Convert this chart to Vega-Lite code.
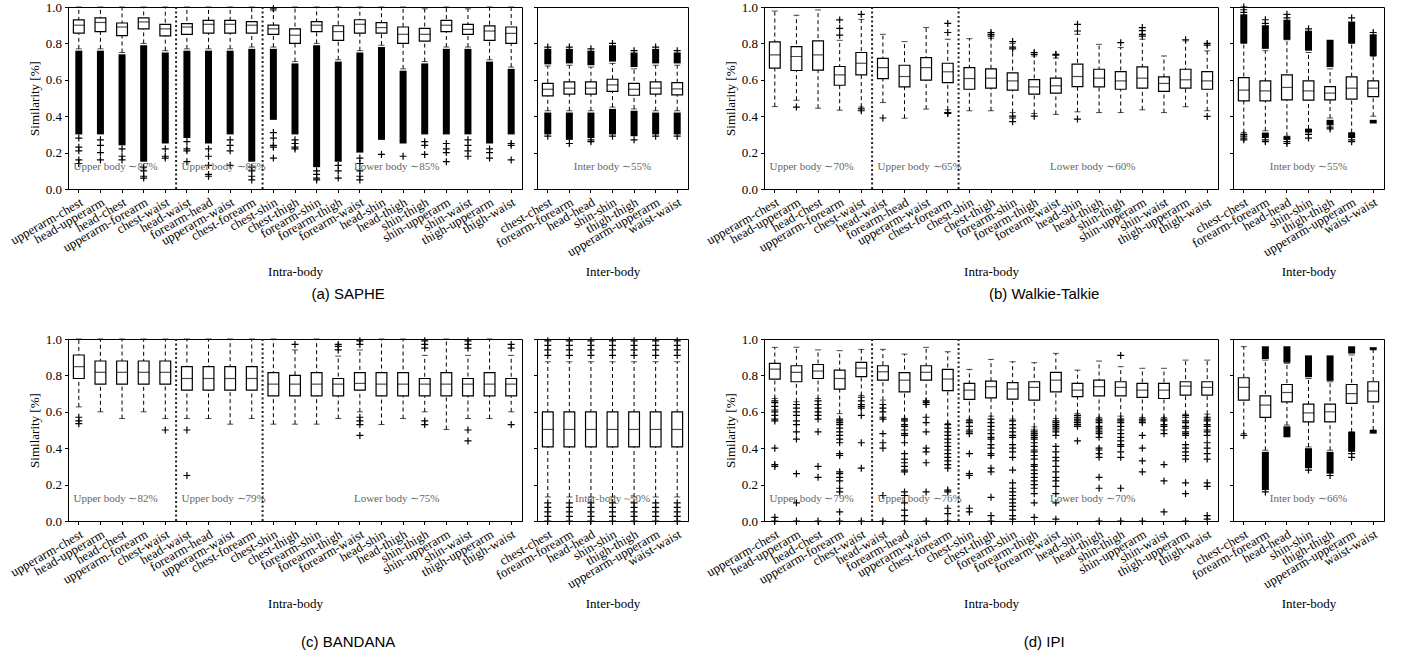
{
"$schema": "https://vega.github.io/schema/vega-lite/v6.json",
"padding": {"left": 7, "top": 0, "right": 5, "bottom": 5},
"background": "white",
"datasets": {
"bx": [
{"g":"ai","c":"upperarm-chest","lo":0.77,"q1":0.856,"md":0.9,"q3":0.929,"hi":1.0},
{"g":"ai","c":"head-upperarm","lo":0.77,"q1":0.865,"md":0.915,"q3":0.94,"hi":1.0},
{"g":"ai","c":"head-chest","lo":0.75,"q1":0.843,"md":0.89,"q3":0.912,"hi":1.0},
{"g":"ai","c":"upperarm-forearm","lo":0.8,"q1":0.88,"md":0.918,"q3":0.94,"hi":1.0},
{"g":"ai","c":"chest-waist","lo":0.76,"q1":0.841,"md":0.88,"q3":0.905,"hi":1.0},
{"g":"ai","c":"head-waist","lo":0.77,"q1":0.85,"md":0.89,"q3":0.909,"hi":1.0},
{"g":"ai","c":"forearm-head","lo":0.77,"q1":0.856,"md":0.905,"q3":0.927,"hi":1.0},
{"g":"ai","c":"upperarm-waist","lo":0.77,"q1":0.856,"md":0.905,"q3":0.927,"hi":1.0},
{"g":"ai","c":"chest-forearm","lo":0.78,"q1":0.856,"md":0.9,"q3":0.92,"hi":1.0},
{"g":"ai","c":"chest-shin","lo":0.78,"q1":0.85,"md":0.88,"q3":0.9,"hi":0.98},
{"g":"ai","c":"chest-thigh","lo":0.7,"q1":0.8,"md":0.845,"q3":0.88,"hi":1.0},
{"g":"ai","c":"forearm-shin","lo":0.8,"q1":0.865,"md":0.9,"q3":0.92,"hi":1.0},
{"g":"ai","c":"forearm-thigh","lo":0.71,"q1":0.817,"md":0.865,"q3":0.897,"hi":1.0},
{"g":"ai","c":"forearm-waist","lo":0.76,"q1":0.856,"md":0.905,"q3":0.93,"hi":1.0},
{"g":"ai","c":"head-shin","lo":0.79,"q1":0.856,"md":0.887,"q3":0.914,"hi":1.0},
{"g":"ai","c":"head-thigh","lo":0.66,"q1":0.8,"md":0.85,"q3":0.89,"hi":1.0},
{"g":"ai","c":"shin-thigh","lo":0.7,"q1":0.813,"md":0.85,"q3":0.883,"hi":0.99},
{"g":"ai","c":"shin-upperarm","lo":0.78,"q1":0.865,"md":0.9,"q3":0.927,"hi":1.0},
{"g":"ai","c":"shin-waist","lo":0.78,"q1":0.85,"md":0.877,"q3":0.905,"hi":0.99},
{"g":"ai","c":"thigh-upperarm","lo":0.71,"q1":0.817,"md":0.868,"q3":0.896,"hi":1.0},
{"g":"ai","c":"thigh-waist","lo":0.67,"q1":0.8,"md":0.855,"q3":0.89,"hi":1.0},
{"g":"ae","c":"chest-chest","lo":0.43,"q1":0.512,"md":0.548,"q3":0.58,"hi":0.676},
{"g":"ae","c":"forearm-forearm","lo":0.43,"q1":0.521,"md":0.554,"q3":0.589,"hi":0.68},
{"g":"ae","c":"head-head","lo":0.43,"q1":0.521,"md":0.554,"q3":0.589,"hi":0.67},
{"g":"ae","c":"shin-shin","lo":0.45,"q1":0.536,"md":0.572,"q3":0.603,"hi":0.69},
{"g":"ae","c":"thigh-thigh","lo":0.44,"q1":0.515,"md":0.548,"q3":0.58,"hi":0.66},
{"g":"ae","c":"upperarm-upperarm","lo":0.43,"q1":0.521,"md":0.554,"q3":0.589,"hi":0.68},
{"g":"ae","c":"waist-waist","lo":0.43,"q1":0.517,"md":0.55,"q3":0.585,"hi":0.68},
{"g":"bi","c":"upperarm-chest","lo":0.453,"q1":0.664,"md":0.737,"q3":0.808,"hi":0.978},
{"g":"bi","c":"head-upperarm","lo":0.488,"q1":0.651,"md":0.728,"q3":0.782,"hi":0.954},
{"g":"bi","c":"head-chest","lo":0.444,"q1":0.653,"md":0.737,"q3":0.814,"hi":0.984},
{"g":"bi","c":"upperarm-forearm","lo":0.433,"q1":0.57,"md":0.627,"q3":0.673,"hi":0.817},
{"g":"bi","c":"chest-waist","lo":0.45,"q1":0.627,"md":0.691,"q3":0.75,"hi":0.932},
{"g":"bi","c":"head-waist","lo":0.475,"q1":0.607,"md":0.667,"q3":0.718,"hi":0.85},
{"g":"bi","c":"forearm-head","lo":0.389,"q1":0.561,"md":0.618,"q3":0.68,"hi":0.81},
{"g":"bi","c":"upperarm-waist","lo":0.439,"q1":0.598,"md":0.667,"q3":0.722,"hi":0.887},
{"g":"bi","c":"chest-forearm","lo":0.435,"q1":0.585,"md":0.644,"q3":0.691,"hi":0.823},
{"g":"bi","c":"chest-shin","lo":0.43,"q1":0.548,"md":0.607,"q3":0.667,"hi":0.826},
{"g":"bi","c":"chest-thigh","lo":0.43,"q1":0.554,"md":0.609,"q3":0.66,"hi":0.828},
{"g":"bi","c":"forearm-shin","lo":0.42,"q1":0.543,"md":0.594,"q3":0.638,"hi":0.8},
{"g":"bi","c":"forearm-thigh","lo":0.415,"q1":0.521,"md":0.561,"q3":0.601,"hi":0.731},
{"g":"bi","c":"forearm-waist","lo":0.41,"q1":0.527,"md":0.567,"q3":0.609,"hi":0.72},
{"g":"bi","c":"head-shin","lo":0.424,"q1":0.563,"md":0.618,"q3":0.686,"hi":0.85},
{"g":"bi","c":"head-thigh","lo":0.42,"q1":0.561,"md":0.609,"q3":0.658,"hi":0.795},
{"g":"bi","c":"shin-thigh","lo":0.42,"q1":0.548,"md":0.594,"q3":0.645,"hi":0.777},
{"g":"bi","c":"shin-upperarm","lo":0.435,"q1":0.554,"md":0.609,"q3":0.671,"hi":0.823},
{"g":"bi","c":"shin-waist","lo":0.42,"q1":0.536,"md":0.58,"q3":0.616,"hi":0.731},
{"g":"bi","c":"thigh-upperarm","lo":0.452,"q1":0.554,"md":0.6,"q3":0.658,"hi":0.814},
{"g":"bi","c":"thigh-waist","lo":0.43,"q1":0.548,"md":0.594,"q3":0.645,"hi":0.759},
{"g":"be","c":"chest-chest","lo":0.31,"q1":0.484,"md":0.543,"q3":0.612,"hi":0.8},
{"g":"be","c":"forearm-forearm","lo":0.32,"q1":0.484,"md":0.539,"q3":0.594,"hi":0.76},
{"g":"be","c":"head-head","lo":0.29,"q1":0.49,"md":0.558,"q3":0.627,"hi":0.82},
{"g":"be","c":"shin-shin","lo":0.33,"q1":0.488,"md":0.539,"q3":0.594,"hi":0.75},
{"g":"be","c":"thigh-thigh","lo":0.39,"q1":0.49,"md":0.527,"q3":0.563,"hi":0.66},
{"g":"be","c":"upperarm-upperarm","lo":0.31,"q1":0.494,"md":0.554,"q3":0.616,"hi":0.8},
{"g":"be","c":"waist-waist","lo":0.4,"q1":0.508,"md":0.554,"q3":0.594,"hi":0.73},
{"g":"ci","c":"upperarm-chest","lo":0.627,"q1":0.783,"md":0.848,"q3":0.912,"hi":1.0},
{"g":"ci","c":"head-upperarm","lo":0.6,"q1":0.752,"md":0.817,"q3":0.879,"hi":1.0},
{"g":"ci","c":"head-chest","lo":0.563,"q1":0.752,"md":0.817,"q3":0.879,"hi":1.0},
{"g":"ci","c":"upperarm-forearm","lo":0.6,"q1":0.752,"md":0.817,"q3":0.879,"hi":1.0},
{"g":"ci","c":"chest-waist","lo":0.563,"q1":0.752,"md":0.817,"q3":0.879,"hi":1.0},
{"g":"ci","c":"head-waist","lo":0.563,"q1":0.719,"md":0.783,"q3":0.848,"hi":1.0},
{"g":"ci","c":"forearm-head","lo":0.563,"q1":0.719,"md":0.783,"q3":0.848,"hi":1.0},
{"g":"ci","c":"upperarm-waist","lo":0.532,"q1":0.719,"md":0.783,"q3":0.848,"hi":1.0},
{"g":"ci","c":"chest-forearm","lo":0.563,"q1":0.719,"md":0.783,"q3":0.848,"hi":1.0},
{"g":"ci","c":"chest-shin","lo":0.532,"q1":0.688,"md":0.752,"q3":0.815,"hi":1.0},
{"g":"ci","c":"chest-thigh","lo":0.532,"q1":0.688,"md":0.752,"q3":0.8,"hi":0.94},
{"g":"ci","c":"forearm-shin","lo":0.532,"q1":0.688,"md":0.752,"q3":0.815,"hi":1.0},
{"g":"ci","c":"forearm-thigh","lo":0.563,"q1":0.688,"md":0.752,"q3":0.783,"hi":0.906},
{"g":"ci","c":"forearm-waist","lo":0.6,"q1":0.719,"md":0.756,"q3":0.815,"hi":0.94},
{"g":"ci","c":"head-shin","lo":0.53,"q1":0.688,"md":0.752,"q3":0.815,"hi":1.0},
{"g":"ci","c":"head-thigh","lo":0.563,"q1":0.688,"md":0.752,"q3":0.815,"hi":1.0},
{"g":"ci","c":"shin-thigh","lo":0.6,"q1":0.688,"md":0.752,"q3":0.783,"hi":0.91},
{"g":"ci","c":"shin-upperarm","lo":0.503,"q1":0.688,"md":0.752,"q3":0.815,"hi":1.0},
{"g":"ci","c":"shin-waist","lo":0.563,"q1":0.688,"md":0.752,"q3":0.783,"hi":0.91},
{"g":"ci","c":"thigh-upperarm","lo":0.563,"q1":0.688,"md":0.752,"q3":0.815,"hi":1.0},
{"g":"ci","c":"thigh-waist","lo":0.6,"q1":0.688,"md":0.752,"q3":0.783,"hi":0.91},
{"g":"ce","c":"chest-chest","lo":0.132,"q1":0.407,"md":0.503,"q3":0.6,"hi":0.875},
{"g":"ce","c":"forearm-forearm","lo":0.132,"q1":0.407,"md":0.503,"q3":0.6,"hi":0.875},
{"g":"ce","c":"head-head","lo":0.132,"q1":0.407,"md":0.503,"q3":0.6,"hi":0.875},
{"g":"ce","c":"shin-shin","lo":0.132,"q1":0.407,"md":0.503,"q3":0.6,"hi":0.875},
{"g":"ce","c":"thigh-thigh","lo":0.132,"q1":0.407,"md":0.503,"q3":0.6,"hi":0.875},
{"g":"ce","c":"upperarm-upperarm","lo":0.132,"q1":0.407,"md":0.503,"q3":0.6,"hi":0.875},
{"g":"ce","c":"waist-waist","lo":0.132,"q1":0.407,"md":0.503,"q3":0.6,"hi":0.875},
{"g":"di","c":"upperarm-chest","lo":0.673,"q1":0.78,"md":0.835,"q3":0.866,"hi":0.954},
{"g":"di","c":"head-upperarm","lo":0.655,"q1":0.765,"md":0.817,"q3":0.853,"hi":0.954},
{"g":"di","c":"head-chest","lo":0.673,"q1":0.783,"md":0.824,"q3":0.86,"hi":0.94},
{"g":"di","c":"upperarm-forearm","lo":0.59,"q1":0.725,"md":0.783,"q3":0.829,"hi":0.936},
{"g":"di","c":"chest-waist","lo":0.69,"q1":0.793,"md":0.84,"q3":0.872,"hi":0.943},
{"g":"di","c":"head-waist","lo":0.664,"q1":0.774,"md":0.82,"q3":0.853,"hi":0.943},
{"g":"di","c":"forearm-head","lo":0.563,"q1":0.71,"md":0.774,"q3":0.815,"hi":0.917},
{"g":"di","c":"upperarm-waist","lo":0.655,"q1":0.774,"md":0.817,"q3":0.853,"hi":0.954},
{"g":"di","c":"chest-forearm","lo":0.536,"q1":0.716,"md":0.78,"q3":0.833,"hi":0.93},
{"g":"di","c":"chest-shin","lo":0.558,"q1":0.668,"md":0.719,"q3":0.756,"hi":0.833},
{"g":"di","c":"chest-thigh","lo":0.576,"q1":0.677,"md":0.738,"q3":0.769,"hi":0.888},
{"g":"di","c":"forearm-shin","lo":0.56,"q1":0.67,"md":0.725,"q3":0.76,"hi":0.875},
{"g":"di","c":"forearm-thigh","lo":0.517,"q1":0.664,"md":0.734,"q3":0.765,"hi":0.87},
{"g":"di","c":"forearm-waist","lo":0.563,"q1":0.71,"md":0.774,"q3":0.817,"hi":0.921},
{"g":"di","c":"head-shin","lo":0.59,"q1":0.683,"md":0.719,"q3":0.756,"hi":0.829},
{"g":"di","c":"head-thigh","lo":0.569,"q1":0.688,"md":0.738,"q3":0.774,"hi":0.879},
{"g":"di","c":"shin-thigh","lo":0.576,"q1":0.688,"md":0.734,"q3":0.765,"hi":0.848},
{"g":"di","c":"shin-upperarm","lo":0.569,"q1":0.679,"md":0.719,"q3":0.756,"hi":0.839},
{"g":"di","c":"shin-waist","lo":0.569,"q1":0.673,"md":0.719,"q3":0.756,"hi":0.839},
{"g":"di","c":"thigh-upperarm","lo":0.587,"q1":0.692,"md":0.741,"q3":0.765,"hi":0.884},
{"g":"di","c":"thigh-waist","lo":0.587,"q1":0.692,"md":0.734,"q3":0.765,"hi":0.884},
{"g":"de","c":"chest-chest","lo":0.48,"q1":0.664,"md":0.734,"q3":0.787,"hi":0.958},
{"g":"de","c":"forearm-forearm","lo":0.389,"q1":0.569,"md":0.637,"q3":0.688,"hi":0.884},
{"g":"de","c":"head-head","lo":0.527,"q1":0.655,"md":0.706,"q3":0.75,"hi":0.866},
{"g":"de","c":"shin-shin","lo":0.407,"q1":0.545,"md":0.594,"q3":0.642,"hi":0.783},
{"g":"de","c":"thigh-thigh","lo":0.389,"q1":0.545,"md":0.6,"q3":0.642,"hi":0.765},
{"g":"de","c":"upperarm-upperarm","lo":0.49,"q1":0.646,"md":0.7,"q3":0.75,"hi":0.912},
{"g":"de","c":"waist-waist","lo":0.5,"q1":0.655,"md":0.714,"q3":0.765,"hi":0.94}
],
"bd": [
{"g":"ai","c":"upperarm-chest","b0":0.3,"b1":0.76},
{"g":"ai","c":"head-upperarm","b0":0.3,"b1":0.76},
{"g":"ai","c":"head-chest","b0":0.24,"b1":0.74},
{"g":"ai","c":"upperarm-forearm","b0":0.15,"b1":0.79},
{"g":"ai","c":"chest-waist","b0":0.25,"b1":0.75},
{"g":"ai","c":"head-waist","b0":0.28,"b1":0.76},
{"g":"ai","c":"forearm-head","b0":0.25,"b1":0.76},
{"g":"ai","c":"upperarm-waist","b0":0.3,"b1":0.76},
{"g":"ai","c":"chest-forearm","b0":0.15,"b1":0.77},
{"g":"ai","c":"chest-shin","b0":0.38,"b1":0.77},
{"g":"ai","c":"chest-thigh","b0":0.3,"b1":0.69},
{"g":"ai","c":"forearm-shin","b0":0.12,"b1":0.79},
{"g":"ai","c":"forearm-thigh","b0":0.15,"b1":0.7},
{"g":"ai","c":"forearm-waist","b0":0.2,"b1":0.75},
{"g":"ai","c":"head-shin","b0":0.27,"b1":0.78},
{"g":"ai","c":"head-thigh","b0":0.25,"b1":0.65},
{"g":"ai","c":"shin-thigh","b0":0.3,"b1":0.69},
{"g":"ai","c":"shin-upperarm","b0":0.3,"b1":0.77},
{"g":"ai","c":"shin-waist","b0":0.3,"b1":0.77},
{"g":"ai","c":"thigh-upperarm","b0":0.25,"b1":0.7},
{"g":"ai","c":"thigh-waist","b0":0.3,"b1":0.66},
{"g":"ae","c":"chest-chest","b0":0.685,"b1":0.77},
{"g":"ae","c":"chest-chest","b0":0.3,"b1":0.42},
{"g":"ae","c":"forearm-forearm","b0":0.69,"b1":0.77},
{"g":"ae","c":"forearm-forearm","b0":0.27,"b1":0.42},
{"g":"ae","c":"head-head","b0":0.68,"b1":0.76},
{"g":"ae","c":"head-head","b0":0.28,"b1":0.42},
{"g":"ae","c":"shin-shin","b0":0.7,"b1":0.79},
{"g":"ae","c":"shin-shin","b0":0.3,"b1":0.44},
{"g":"ae","c":"thigh-thigh","b0":0.67,"b1":0.75},
{"g":"ae","c":"thigh-thigh","b0":0.29,"b1":0.43},
{"g":"ae","c":"upperarm-upperarm","b0":0.69,"b1":0.77},
{"g":"ae","c":"upperarm-upperarm","b0":0.3,"b1":0.42},
{"g":"ae","c":"waist-waist","b0":0.69,"b1":0.75},
{"g":"ae","c":"waist-waist","b0":0.3,"b1":0.42},
{"g":"be","c":"chest-chest","b0":0.8,"b1":0.96},
{"g":"be","c":"forearm-forearm","b0":0.77,"b1":0.9},
{"g":"be","c":"forearm-forearm","b0":0.28,"b1":0.31},
{"g":"be","c":"head-head","b0":0.82,"b1":0.93},
{"g":"be","c":"head-head","b0":0.27,"b1":0.29},
{"g":"be","c":"shin-shin","b0":0.76,"b1":0.87},
{"g":"be","c":"shin-shin","b0":0.31,"b1":0.33},
{"g":"be","c":"thigh-thigh","b0":0.67,"b1":0.82},
{"g":"be","c":"thigh-thigh","b0":0.35,"b1":0.38},
{"g":"be","c":"upperarm-upperarm","b0":0.8,"b1":0.92},
{"g":"be","c":"upperarm-upperarm","b0":0.28,"b1":0.31},
{"g":"be","c":"waist-waist","b0":0.73,"b1":0.85},
{"g":"be","c":"waist-waist","b0":0.36,"b1":0.38},
{"g":"de","c":"forearm-forearm","b0":0.89,"b1":0.96},
{"g":"de","c":"forearm-forearm","b0":0.17,"b1":0.38},
{"g":"de","c":"head-head","b0":0.87,"b1":0.96},
{"g":"de","c":"head-head","b0":0.46,"b1":0.52},
{"g":"de","c":"shin-shin","b0":0.79,"b1":0.91},
{"g":"de","c":"shin-shin","b0":0.29,"b1":0.4},
{"g":"de","c":"thigh-thigh","b0":0.77,"b1":0.91},
{"g":"de","c":"thigh-thigh","b0":0.26,"b1":0.38},
{"g":"de","c":"upperarm-upperarm","b0":0.92,"b1":0.96},
{"g":"de","c":"upperarm-upperarm","b0":0.38,"b1":0.49},
{"g":"de","c":"waist-waist","b0":0.94,"b1":0.955},
{"g":"de","c":"waist-waist","b0":0.48,"b1":0.5}
],
"ot": [
{"g":"ai","c":"upperarm-chest","v":0.28},{"g":"ai","c":"upperarm-chest","v":0.23},{"g":"ai","c":"upperarm-chest","v":0.21},{"g":"ai","c":"upperarm-chest","v":0.16},{"g":"ai","c":"upperarm-chest","v":0.14},
{"g":"ai","c":"head-upperarm","v":0.27},{"g":"ai","c":"head-upperarm","v":0.24},{"g":"ai","c":"head-upperarm","v":0.2},{"g":"ai","c":"head-upperarm","v":0.16},
{"g":"ai","c":"head-chest","v":0.22},{"g":"ai","c":"head-chest","v":0.18},{"g":"ai","c":"head-chest","v":0.16},
{"g":"ai","c":"upperarm-forearm","v":0.12},{"g":"ai","c":"upperarm-forearm","v":0.1},{"g":"ai","c":"upperarm-forearm","v":0.07},{"g":"ai","c":"upperarm-forearm","v":0.06},
{"g":"ai","c":"chest-waist","v":0.22},{"g":"ai","c":"chest-waist","v":0.18},{"g":"ai","c":"chest-waist","v":0.17},
{"g":"ai","c":"head-waist","v":0.26},{"g":"ai","c":"head-waist","v":0.22},{"g":"ai","c":"head-waist","v":0.21},{"g":"ai","c":"head-waist","v":0.15},
{"g":"ai","c":"forearm-head","v":0.22},{"g":"ai","c":"forearm-head","v":0.18},{"g":"ai","c":"forearm-head","v":0.13},{"g":"ai","c":"forearm-head","v":0.08},{"g":"ai","c":"forearm-head","v":0.07},
{"g":"ai","c":"upperarm-waist","v":0.27},{"g":"ai","c":"upperarm-waist","v":0.24},{"g":"ai","c":"upperarm-waist","v":0.21},{"g":"ai","c":"upperarm-waist","v":0.13},
{"g":"ai","c":"chest-forearm","v":0.12},{"g":"ai","c":"chest-forearm","v":0.1},{"g":"ai","c":"chest-forearm","v":0.07},{"g":"ai","c":"chest-forearm","v":0.05},
{"g":"ai","c":"chest-shin","v":0.99},{"g":"ai","c":"chest-shin","v":0.31},{"g":"ai","c":"chest-shin","v":0.28},{"g":"ai","c":"chest-shin","v":0.24},{"g":"ai","c":"chest-shin","v":0.23},{"g":"ai","c":"chest-shin","v":0.17},
{"g":"ai","c":"chest-thigh","v":0.27},{"g":"ai","c":"chest-thigh","v":0.25},{"g":"ai","c":"chest-thigh","v":0.23},{"g":"ai","c":"chest-thigh","v":0.22},
{"g":"ai","c":"forearm-shin","v":0.1},{"g":"ai","c":"forearm-shin","v":0.08},{"g":"ai","c":"forearm-shin","v":0.06},{"g":"ai","c":"forearm-shin","v":0.05},
{"g":"ai","c":"forearm-thigh","v":0.13},{"g":"ai","c":"forearm-thigh","v":0.1},{"g":"ai","c":"forearm-thigh","v":0.06},
{"g":"ai","c":"forearm-waist","v":0.17},{"g":"ai","c":"forearm-waist","v":0.14},{"g":"ai","c":"forearm-waist","v":0.1},{"g":"ai","c":"forearm-waist","v":0.07},{"g":"ai","c":"forearm-waist","v":0.05},
{"g":"ai","c":"head-shin","v":0.19},
{"g":"ai","c":"head-thigh","v":0.18},
{"g":"ai","c":"shin-thigh","v":0.26},{"g":"ai","c":"shin-thigh","v":0.24},{"g":"ai","c":"shin-thigh","v":0.19},
{"g":"ai","c":"shin-upperarm","v":0.25},{"g":"ai","c":"shin-upperarm","v":0.22},{"g":"ai","c":"shin-upperarm","v":0.2},{"g":"ai","c":"shin-upperarm","v":0.15},
{"g":"ai","c":"shin-waist","v":0.27},{"g":"ai","c":"shin-waist","v":0.24},{"g":"ai","c":"shin-waist","v":0.21},{"g":"ai","c":"shin-waist","v":0.18},
{"g":"ai","c":"thigh-upperarm","v":0.22},{"g":"ai","c":"thigh-upperarm","v":0.2},{"g":"ai","c":"thigh-upperarm","v":0.17},
{"g":"ai","c":"thigh-waist","v":0.25},{"g":"ai","c":"thigh-waist","v":0.24},{"g":"ai","c":"thigh-waist","v":0.16},
{"g":"ae","c":"chest-chest","v":0.78},{"g":"ae","c":"chest-chest","v":0.29},
{"g":"ae","c":"forearm-forearm","v":0.78},{"g":"ae","c":"forearm-forearm","v":0.25},
{"g":"ae","c":"head-head","v":0.77},{"g":"ae","c":"head-head","v":0.27},{"g":"ae","c":"head-head","v":0.26},
{"g":"ae","c":"shin-shin","v":0.8},{"g":"ae","c":"shin-shin","v":0.29},
{"g":"ae","c":"thigh-thigh","v":0.76},{"g":"ae","c":"thigh-thigh","v":0.27},
{"g":"ae","c":"upperarm-upperarm","v":0.78},{"g":"ae","c":"upperarm-upperarm","v":0.29},
{"g":"ae","c":"waist-waist","v":0.76},{"g":"ae","c":"waist-waist","v":0.29},
{"g":"bi","c":"head-upperarm","v":0.45},
{"g":"bi","c":"upperarm-forearm","v":0.845},{"g":"bi","c":"upperarm-forearm","v":0.883},{"g":"bi","c":"upperarm-forearm","v":0.929},
{"g":"bi","c":"chest-waist","v":0.96},{"g":"bi","c":"chest-waist","v":0.44},{"g":"bi","c":"chest-waist","v":0.43},
{"g":"bi","c":"head-waist","v":0.39},
{"g":"bi","c":"chest-forearm","v":0.86},{"g":"bi","c":"chest-forearm","v":0.91},{"g":"bi","c":"chest-forearm","v":0.42},{"g":"bi","c":"chest-forearm","v":0.415},
{"g":"bi","c":"chest-thigh","v":0.84},{"g":"bi","c":"chest-thigh","v":0.85},{"g":"bi","c":"chest-thigh","v":0.86},
{"g":"bi","c":"forearm-shin","v":0.77},{"g":"bi","c":"forearm-shin","v":0.78},{"g":"bi","c":"forearm-shin","v":0.81},{"g":"bi","c":"forearm-shin","v":0.4},{"g":"bi","c":"forearm-shin","v":0.39},{"g":"bi","c":"forearm-shin","v":0.37},
{"g":"bi","c":"forearm-thigh","v":0.74},{"g":"bi","c":"forearm-thigh","v":0.75},{"g":"bi","c":"forearm-thigh","v":0.4},
{"g":"bi","c":"forearm-waist","v":0.735},{"g":"bi","c":"forearm-waist","v":0.74},
{"g":"bi","c":"head-shin","v":0.868},{"g":"bi","c":"head-shin","v":0.905},{"g":"bi","c":"head-shin","v":0.384},
{"g":"bi","c":"shin-thigh","v":0.804},
{"g":"bi","c":"shin-upperarm","v":0.84},{"g":"bi","c":"shin-upperarm","v":0.85},{"g":"bi","c":"shin-upperarm","v":0.87},{"g":"bi","c":"shin-upperarm","v":0.887},
{"g":"bi","c":"thigh-upperarm","v":0.82},
{"g":"bi","c":"thigh-waist","v":0.79},{"g":"bi","c":"thigh-waist","v":0.8},{"g":"bi","c":"thigh-waist","v":0.399},
{"g":"be","c":"chest-chest","v":0.97},{"g":"be","c":"chest-chest","v":0.985},{"g":"be","c":"chest-chest","v":1.0},{"g":"be","c":"chest-chest","v":0.3},{"g":"be","c":"chest-chest","v":0.29},{"g":"be","c":"chest-chest","v":0.28},{"g":"be","c":"chest-chest","v":0.27},
{"g":"be","c":"forearm-forearm","v":0.91},{"g":"be","c":"forearm-forearm","v":0.93},{"g":"be","c":"forearm-forearm","v":0.27},{"g":"be","c":"forearm-forearm","v":0.26},
{"g":"be","c":"head-head","v":0.94},{"g":"be","c":"head-head","v":0.96},{"g":"be","c":"head-head","v":0.26},{"g":"be","c":"head-head","v":0.25},
{"g":"be","c":"shin-shin","v":0.88},{"g":"be","c":"shin-shin","v":0.3},{"g":"be","c":"shin-shin","v":0.28},
{"g":"be","c":"thigh-thigh","v":0.34},{"g":"be","c":"thigh-thigh","v":0.33},
{"g":"be","c":"upperarm-upperarm","v":0.94},{"g":"be","c":"upperarm-upperarm","v":0.27},{"g":"be","c":"upperarm-upperarm","v":0.26},
{"g":"be","c":"waist-waist","v":0.86},
{"g":"ci","c":"upperarm-chest","v":0.57},{"g":"ci","c":"upperarm-chest","v":0.55},{"g":"ci","c":"upperarm-chest","v":0.535},
{"g":"ci","c":"chest-waist","v":0.5},
{"g":"ci","c":"head-waist","v":0.5},{"g":"ci","c":"head-waist","v":0.25},
{"g":"ci","c":"chest-thigh","v":0.97},
{"g":"ci","c":"forearm-thigh","v":0.94},{"g":"ci","c":"forearm-thigh","v":0.96},{"g":"ci","c":"forearm-thigh","v":0.97},
{"g":"ci","c":"forearm-waist","v":0.97},{"g":"ci","c":"forearm-waist","v":0.99},{"g":"ci","c":"forearm-waist","v":0.57},{"g":"ci","c":"forearm-waist","v":0.55},{"g":"ci","c":"forearm-waist","v":0.53},{"g":"ci","c":"forearm-waist","v":0.47},
{"g":"ci","c":"shin-thigh","v":0.95},{"g":"ci","c":"shin-thigh","v":0.97},{"g":"ci","c":"shin-thigh","v":0.99},{"g":"ci","c":"shin-thigh","v":0.55},{"g":"ci","c":"shin-thigh","v":0.53},
{"g":"ci","c":"shin-waist","v":0.95},{"g":"ci","c":"shin-waist","v":0.97},{"g":"ci","c":"shin-waist","v":0.99},{"g":"ci","c":"shin-waist","v":0.5},{"g":"ci","c":"shin-waist","v":0.44},
{"g":"ci","c":"thigh-waist","v":0.95},{"g":"ci","c":"thigh-waist","v":0.97},{"g":"ci","c":"thigh-waist","v":0.53},
{"g":"ce","c":"chest-chest","v":0.91},{"g":"ce","c":"chest-chest","v":0.94},{"g":"ce","c":"chest-chest","v":0.965},{"g":"ce","c":"chest-chest","v":0.99},{"g":"ce","c":"chest-chest","v":0.1},{"g":"ce","c":"chest-chest","v":0.075},{"g":"ce","c":"chest-chest","v":0.05},{"g":"ce","c":"chest-chest","v":0.025},{"g":"ce","c":"chest-chest","v":0.0},
{"g":"ce","c":"forearm-forearm","v":0.91},{"g":"ce","c":"forearm-forearm","v":0.94},{"g":"ce","c":"forearm-forearm","v":0.965},{"g":"ce","c":"forearm-forearm","v":0.99},{"g":"ce","c":"forearm-forearm","v":0.1},{"g":"ce","c":"forearm-forearm","v":0.075},{"g":"ce","c":"forearm-forearm","v":0.05},{"g":"ce","c":"forearm-forearm","v":0.025},{"g":"ce","c":"forearm-forearm","v":0.0},
{"g":"ce","c":"head-head","v":0.91},{"g":"ce","c":"head-head","v":0.94},{"g":"ce","c":"head-head","v":0.965},{"g":"ce","c":"head-head","v":0.99},{"g":"ce","c":"head-head","v":0.1},{"g":"ce","c":"head-head","v":0.075},{"g":"ce","c":"head-head","v":0.05},{"g":"ce","c":"head-head","v":0.025},{"g":"ce","c":"head-head","v":0.0},
{"g":"ce","c":"shin-shin","v":0.91},{"g":"ce","c":"shin-shin","v":0.94},{"g":"ce","c":"shin-shin","v":0.965},{"g":"ce","c":"shin-shin","v":0.99},{"g":"ce","c":"shin-shin","v":0.1},{"g":"ce","c":"shin-shin","v":0.075},{"g":"ce","c":"shin-shin","v":0.05},{"g":"ce","c":"shin-shin","v":0.025},{"g":"ce","c":"shin-shin","v":0.0},
{"g":"ce","c":"thigh-thigh","v":0.91},{"g":"ce","c":"thigh-thigh","v":0.94},{"g":"ce","c":"thigh-thigh","v":0.965},{"g":"ce","c":"thigh-thigh","v":0.99},{"g":"ce","c":"thigh-thigh","v":0.1},{"g":"ce","c":"thigh-thigh","v":0.075},{"g":"ce","c":"thigh-thigh","v":0.05},{"g":"ce","c":"thigh-thigh","v":0.025},{"g":"ce","c":"thigh-thigh","v":0.0},
{"g":"ce","c":"upperarm-upperarm","v":0.91},{"g":"ce","c":"upperarm-upperarm","v":0.94},{"g":"ce","c":"upperarm-upperarm","v":0.965},{"g":"ce","c":"upperarm-upperarm","v":0.99},{"g":"ce","c":"upperarm-upperarm","v":0.1},{"g":"ce","c":"upperarm-upperarm","v":0.075},{"g":"ce","c":"upperarm-upperarm","v":0.05},{"g":"ce","c":"upperarm-upperarm","v":0.025},{"g":"ce","c":"upperarm-upperarm","v":0.0},
{"g":"ce","c":"waist-waist","v":0.91},{"g":"ce","c":"waist-waist","v":0.94},{"g":"ce","c":"waist-waist","v":0.965},{"g":"ce","c":"waist-waist","v":0.99},{"g":"ce","c":"waist-waist","v":0.1},{"g":"ce","c":"waist-waist","v":0.075},{"g":"ce","c":"waist-waist","v":0.05},{"g":"ce","c":"waist-waist","v":0.025},{"g":"ce","c":"waist-waist","v":0.0},
{"g":"di","c":"upperarm-chest","v":0.66},{"g":"di","c":"upperarm-chest","v":0.65},{"g":"di","c":"upperarm-chest","v":0.63},{"g":"di","c":"upperarm-chest","v":0.61},{"g":"di","c":"upperarm-chest","v":0.6},{"g":"di","c":"upperarm-chest","v":0.58},{"g":"di","c":"upperarm-chest","v":0.56},{"g":"di","c":"upperarm-chest","v":0.55},{"g":"di","c":"upperarm-chest","v":0.4},{"g":"di","c":"upperarm-chest","v":0.31},{"g":"di","c":"upperarm-chest","v":0.3},{"g":"di","c":"upperarm-chest","v":0.02},{"g":"di","c":"upperarm-chest","v":0.0},
{"g":"di","c":"head-upperarm","v":0.64},{"g":"di","c":"head-upperarm","v":0.62},{"g":"di","c":"head-upperarm","v":0.6},{"g":"di","c":"head-upperarm","v":0.58},{"g":"di","c":"head-upperarm","v":0.55},{"g":"di","c":"head-upperarm","v":0.53},{"g":"di","c":"head-upperarm","v":0.49},{"g":"di","c":"head-upperarm","v":0.45},{"g":"di","c":"head-upperarm","v":0.26},{"g":"di","c":"head-upperarm","v":0.1},{"g":"di","c":"head-upperarm","v":0.0},
{"g":"di","c":"head-chest","v":0.66},{"g":"di","c":"head-chest","v":0.64},{"g":"di","c":"head-chest","v":0.62},{"g":"di","c":"head-chest","v":0.6},{"g":"di","c":"head-chest","v":0.58},{"g":"di","c":"head-chest","v":0.56},{"g":"di","c":"head-chest","v":0.49},{"g":"di","c":"head-chest","v":0.3},{"g":"di","c":"head-chest","v":0.24},{"g":"di","c":"head-chest","v":0.0},
{"g":"di","c":"upperarm-forearm","v":0.56},{"g":"di","c":"upperarm-forearm","v":0.55},{"g":"di","c":"upperarm-forearm","v":0.54},{"g":"di","c":"upperarm-forearm","v":0.53},{"g":"di","c":"upperarm-forearm","v":0.51},{"g":"di","c":"upperarm-forearm","v":0.49},{"g":"di","c":"upperarm-forearm","v":0.47},{"g":"di","c":"upperarm-forearm","v":0.45},{"g":"di","c":"upperarm-forearm","v":0.43},{"g":"di","c":"upperarm-forearm","v":0.37},{"g":"di","c":"upperarm-forearm","v":0.36},{"g":"di","c":"upperarm-forearm","v":0.27},{"g":"di","c":"upperarm-forearm","v":0.26},{"g":"di","c":"upperarm-forearm","v":0.24},{"g":"di","c":"upperarm-forearm","v":0.22},{"g":"di","c":"upperarm-forearm","v":0.18},{"g":"di","c":"upperarm-forearm","v":0.16},{"g":"di","c":"upperarm-forearm","v":0.05},{"g":"di","c":"upperarm-forearm","v":0.0},
{"g":"di","c":"chest-waist","v":0.68},{"g":"di","c":"chest-waist","v":0.66},{"g":"di","c":"chest-waist","v":0.64},{"g":"di","c":"chest-waist","v":0.63},{"g":"di","c":"chest-waist","v":0.62},{"g":"di","c":"chest-waist","v":0.58},{"g":"di","c":"chest-waist","v":0.43},{"g":"di","c":"chest-waist","v":0.29},{"g":"di","c":"chest-waist","v":0.0},
{"g":"di","c":"head-waist","v":0.64},{"g":"di","c":"head-waist","v":0.62},{"g":"di","c":"head-waist","v":0.6},{"g":"di","c":"head-waist","v":0.57},{"g":"di","c":"head-waist","v":0.56},{"g":"di","c":"head-waist","v":0.48},{"g":"di","c":"head-waist","v":0.43},{"g":"di","c":"head-waist","v":0.4},{"g":"di","c":"head-waist","v":0.14},{"g":"di","c":"head-waist","v":0.0},
{"g":"di","c":"forearm-head","v":0.56},{"g":"di","c":"forearm-head","v":0.55},{"g":"di","c":"forearm-head","v":0.53},{"g":"di","c":"forearm-head","v":0.52},{"g":"di","c":"forearm-head","v":0.5},{"g":"di","c":"forearm-head","v":0.48},{"g":"di","c":"forearm-head","v":0.47},{"g":"di","c":"forearm-head","v":0.43},{"g":"di","c":"forearm-head","v":0.37},{"g":"di","c":"forearm-head","v":0.34},{"g":"di","c":"forearm-head","v":0.32},{"g":"di","c":"forearm-head","v":0.3},{"g":"di","c":"forearm-head","v":0.28},{"g":"di","c":"forearm-head","v":0.27},{"g":"di","c":"forearm-head","v":0.16},{"g":"di","c":"forearm-head","v":0.14},{"g":"di","c":"forearm-head","v":0.1},{"g":"di","c":"forearm-head","v":0.06},{"g":"di","c":"forearm-head","v":0.03},{"g":"di","c":"forearm-head","v":0.0},
{"g":"di","c":"upperarm-waist","v":0.66},{"g":"di","c":"upperarm-waist","v":0.65},{"g":"di","c":"upperarm-waist","v":0.64},{"g":"di","c":"upperarm-waist","v":0.57},{"g":"di","c":"upperarm-waist","v":0.54},{"g":"di","c":"upperarm-waist","v":0.49},{"g":"di","c":"upperarm-waist","v":0.4},{"g":"di","c":"upperarm-waist","v":0.38},{"g":"di","c":"upperarm-waist","v":0.32},{"g":"di","c":"upperarm-waist","v":0.16},{"g":"di","c":"upperarm-waist","v":0.0},
{"g":"di","c":"chest-forearm","v":0.53},{"g":"di","c":"chest-forearm","v":0.51},{"g":"di","c":"chest-forearm","v":0.49},{"g":"di","c":"chest-forearm","v":0.47},{"g":"di","c":"chest-forearm","v":0.45},{"g":"di","c":"chest-forearm","v":0.43},{"g":"di","c":"chest-forearm","v":0.41},{"g":"di","c":"chest-forearm","v":0.39},{"g":"di","c":"chest-forearm","v":0.37},{"g":"di","c":"chest-forearm","v":0.35},{"g":"di","c":"chest-forearm","v":0.33},{"g":"di","c":"chest-forearm","v":0.31},{"g":"di","c":"chest-forearm","v":0.29},{"g":"di","c":"chest-forearm","v":0.17},{"g":"di","c":"chest-forearm","v":0.16},{"g":"di","c":"chest-forearm","v":0.07},{"g":"di","c":"chest-forearm","v":0.04},{"g":"di","c":"chest-forearm","v":0.0},
{"g":"di","c":"chest-shin","v":0.55},{"g":"di","c":"chest-shin","v":0.54},{"g":"di","c":"chest-shin","v":0.52},{"g":"di","c":"chest-shin","v":0.5},{"g":"di","c":"chest-shin","v":0.49},{"g":"di","c":"chest-shin","v":0.48},{"g":"di","c":"chest-shin","v":0.37},{"g":"di","c":"chest-shin","v":0.26},{"g":"di","c":"chest-shin","v":0.25},{"g":"di","c":"chest-shin","v":0.07},{"g":"di","c":"chest-shin","v":0.05},
{"g":"di","c":"chest-thigh","v":0.56},{"g":"di","c":"chest-thigh","v":0.54},{"g":"di","c":"chest-thigh","v":0.52},{"g":"di","c":"chest-thigh","v":0.5},{"g":"di","c":"chest-thigh","v":0.48},{"g":"di","c":"chest-thigh","v":0.46},{"g":"di","c":"chest-thigh","v":0.45},{"g":"di","c":"chest-thigh","v":0.42},{"g":"di","c":"chest-thigh","v":0.4},{"g":"di","c":"chest-thigh","v":0.37},{"g":"di","c":"chest-thigh","v":0.36},{"g":"di","c":"chest-thigh","v":0.29},{"g":"di","c":"chest-thigh","v":0.27},{"g":"di","c":"chest-thigh","v":0.13},{"g":"di","c":"chest-thigh","v":0.03},{"g":"di","c":"chest-thigh","v":0.0},
{"g":"di","c":"forearm-shin","v":0.55},{"g":"di","c":"forearm-shin","v":0.53},{"g":"di","c":"forearm-shin","v":0.51},{"g":"di","c":"forearm-shin","v":0.49},{"g":"di","c":"forearm-shin","v":0.47},{"g":"di","c":"forearm-shin","v":0.46},{"g":"di","c":"forearm-shin","v":0.42},{"g":"di","c":"forearm-shin","v":0.4},{"g":"di","c":"forearm-shin","v":0.38},{"g":"di","c":"forearm-shin","v":0.35},{"g":"di","c":"forearm-shin","v":0.28},{"g":"di","c":"forearm-shin","v":0.21},{"g":"di","c":"forearm-shin","v":0.18},{"g":"di","c":"forearm-shin","v":0.16},{"g":"di","c":"forearm-shin","v":0.14},{"g":"di","c":"forearm-shin","v":0.12},{"g":"di","c":"forearm-shin","v":0.1},{"g":"di","c":"forearm-shin","v":0.08},{"g":"di","c":"forearm-shin","v":0.06},{"g":"di","c":"forearm-shin","v":0.03},{"g":"di","c":"forearm-shin","v":0.01},
{"g":"di","c":"forearm-thigh","v":0.5},{"g":"di","c":"forearm-thigh","v":0.49},{"g":"di","c":"forearm-thigh","v":0.48},{"g":"di","c":"forearm-thigh","v":0.47},{"g":"di","c":"forearm-thigh","v":0.46},{"g":"di","c":"forearm-thigh","v":0.45},{"g":"di","c":"forearm-thigh","v":0.43},{"g":"di","c":"forearm-thigh","v":0.41},{"g":"di","c":"forearm-thigh","v":0.39},{"g":"di","c":"forearm-thigh","v":0.38},{"g":"di","c":"forearm-thigh","v":0.36},{"g":"di","c":"forearm-thigh","v":0.34},{"g":"di","c":"forearm-thigh","v":0.31},{"g":"di","c":"forearm-thigh","v":0.3},{"g":"di","c":"forearm-thigh","v":0.28},{"g":"di","c":"forearm-thigh","v":0.26},{"g":"di","c":"forearm-thigh","v":0.24},{"g":"di","c":"forearm-thigh","v":0.22},{"g":"di","c":"forearm-thigh","v":0.2},{"g":"di","c":"forearm-thigh","v":0.18},{"g":"di","c":"forearm-thigh","v":0.15},{"g":"di","c":"forearm-thigh","v":0.1},{"g":"di","c":"forearm-thigh","v":0.02},
{"g":"di","c":"forearm-waist","v":0.55},{"g":"di","c":"forearm-waist","v":0.54},{"g":"di","c":"forearm-waist","v":0.53},{"g":"di","c":"forearm-waist","v":0.52},{"g":"di","c":"forearm-waist","v":0.51},{"g":"di","c":"forearm-waist","v":0.5},{"g":"di","c":"forearm-waist","v":0.49},{"g":"di","c":"forearm-waist","v":0.47},{"g":"di","c":"forearm-waist","v":0.41},{"g":"di","c":"forearm-waist","v":0.38},{"g":"di","c":"forearm-waist","v":0.35},{"g":"di","c":"forearm-waist","v":0.33},{"g":"di","c":"forearm-waist","v":0.3},{"g":"di","c":"forearm-waist","v":0.27},{"g":"di","c":"forearm-waist","v":0.24},{"g":"di","c":"forearm-waist","v":0.22},{"g":"di","c":"forearm-waist","v":0.19},{"g":"di","c":"forearm-waist","v":0.15},{"g":"di","c":"forearm-waist","v":0.1},{"g":"di","c":"forearm-waist","v":0.01},
{"g":"di","c":"head-shin","v":0.58},{"g":"di","c":"head-shin","v":0.57},{"g":"di","c":"head-shin","v":0.56},{"g":"di","c":"head-shin","v":0.55},{"g":"di","c":"head-shin","v":0.54},{"g":"di","c":"head-shin","v":0.53},{"g":"di","c":"head-shin","v":0.52},{"g":"di","c":"head-shin","v":0.44},
{"g":"di","c":"head-thigh","v":0.56},{"g":"di","c":"head-thigh","v":0.55},{"g":"di","c":"head-thigh","v":0.54},{"g":"di","c":"head-thigh","v":0.52},{"g":"di","c":"head-thigh","v":0.51},{"g":"di","c":"head-thigh","v":0.5},{"g":"di","c":"head-thigh","v":0.49},{"g":"di","c":"head-thigh","v":0.48},{"g":"di","c":"head-thigh","v":0.46},{"g":"di","c":"head-thigh","v":0.4},{"g":"di","c":"head-thigh","v":0.39},{"g":"di","c":"head-thigh","v":0.37},{"g":"di","c":"head-thigh","v":0.35},{"g":"di","c":"head-thigh","v":0.24},{"g":"di","c":"head-thigh","v":0.18},{"g":"di","c":"head-thigh","v":0.0},
{"g":"di","c":"shin-thigh","v":0.91},{"g":"di","c":"shin-thigh","v":0.56},{"g":"di","c":"shin-thigh","v":0.55},{"g":"di","c":"shin-thigh","v":0.54},{"g":"di","c":"shin-thigh","v":0.52},{"g":"di","c":"shin-thigh","v":0.5},{"g":"di","c":"shin-thigh","v":0.48},{"g":"di","c":"shin-thigh","v":0.46},{"g":"di","c":"shin-thigh","v":0.44},{"g":"di","c":"shin-thigh","v":0.42},{"g":"di","c":"shin-thigh","v":0.41},{"g":"di","c":"shin-thigh","v":0.38},{"g":"di","c":"shin-thigh","v":0.35},{"g":"di","c":"shin-thigh","v":0.18},{"g":"di","c":"shin-thigh","v":0.0},
{"g":"di","c":"shin-upperarm","v":0.56},{"g":"di","c":"shin-upperarm","v":0.55},{"g":"di","c":"shin-upperarm","v":0.54},{"g":"di","c":"shin-upperarm","v":0.47},{"g":"di","c":"shin-upperarm","v":0.4},{"g":"di","c":"shin-upperarm","v":0.33},{"g":"di","c":"shin-upperarm","v":0.27},{"g":"di","c":"shin-upperarm","v":0.0},
{"g":"di","c":"shin-waist","v":0.56},{"g":"di","c":"shin-waist","v":0.55},{"g":"di","c":"shin-waist","v":0.53},{"g":"di","c":"shin-waist","v":0.52},{"g":"di","c":"shin-waist","v":0.5},{"g":"di","c":"shin-waist","v":0.48},{"g":"di","c":"shin-waist","v":0.31},{"g":"di","c":"shin-waist","v":0.22},{"g":"di","c":"shin-waist","v":0.05},
{"g":"di","c":"thigh-upperarm","v":0.58},{"g":"di","c":"thigh-upperarm","v":0.57},{"g":"di","c":"thigh-upperarm","v":0.55},{"g":"di","c":"thigh-upperarm","v":0.54},{"g":"di","c":"thigh-upperarm","v":0.52},{"g":"di","c":"thigh-upperarm","v":0.51},{"g":"di","c":"thigh-upperarm","v":0.49},{"g":"di","c":"thigh-upperarm","v":0.48},{"g":"di","c":"thigh-upperarm","v":0.47},{"g":"di","c":"thigh-upperarm","v":0.42},{"g":"di","c":"thigh-upperarm","v":0.4},{"g":"di","c":"thigh-upperarm","v":0.38},{"g":"di","c":"thigh-upperarm","v":0.36},{"g":"di","c":"thigh-upperarm","v":0.34},{"g":"di","c":"thigh-upperarm","v":0.21},{"g":"di","c":"thigh-upperarm","v":0.15},{"g":"di","c":"thigh-upperarm","v":0.0},
{"g":"di","c":"thigh-waist","v":0.57},{"g":"di","c":"thigh-waist","v":0.56},{"g":"di","c":"thigh-waist","v":0.55},{"g":"di","c":"thigh-waist","v":0.53},{"g":"di","c":"thigh-waist","v":0.52},{"g":"di","c":"thigh-waist","v":0.5},{"g":"di","c":"thigh-waist","v":0.49},{"g":"di","c":"thigh-waist","v":0.47},{"g":"di","c":"thigh-waist","v":0.43},{"g":"di","c":"thigh-waist","v":0.4},{"g":"di","c":"thigh-waist","v":0.37},{"g":"di","c":"thigh-waist","v":0.34},{"g":"di","c":"thigh-waist","v":0.21},{"g":"di","c":"thigh-waist","v":0.19},{"g":"di","c":"thigh-waist","v":0.03},{"g":"di","c":"thigh-waist","v":0.01},
{"g":"de","c":"chest-chest","v":0.47},
{"g":"de","c":"forearm-forearm","v":0.16},
{"g":"de","c":"shin-shin","v":0.28},
{"g":"de","c":"thigh-thigh","v":0.25},
{"g":"de","c":"upperarm-upperarm","v":0.37},{"g":"de","c":"upperarm-upperarm","v":0.35}
],
"tx": [
{"g":"ai","c":"head-chest","t":"Upper body ∼87%","ty":0.12},
{"g":"ai","c":"upperarm-waist","t":"Upper body ∼86%","ty":0.12},
{"g":"ai","c":"head-thigh","t":"Lower body ∼85%","ty":0.12},
{"g":"ae","c":"shin-shin","t":"Inter body ∼55%","ty":0.12},
{"g":"bi","c":"head-chest","t":"Upper body ∼70%","ty":0.12},
{"g":"bi","c":"upperarm-waist","t":"Upper body ∼65%","ty":0.12},
{"g":"bi","c":"head-thigh","t":"Lower body ∼60%","ty":0.12},
{"g":"be","c":"shin-shin","t":"Inter body ∼55%","ty":0.12},
{"g":"ci","c":"head-chest","t":"Upper body ∼82%","ty":0.12},
{"g":"ci","c":"upperarm-waist","t":"Upper body ∼79%","ty":0.12},
{"g":"ci","c":"head-thigh","t":"Lower body ∼75%","ty":0.12},
{"g":"ce","c":"shin-shin","t":"Inter-body ~50%","ty":0.12},
{"g":"di","c":"head-chest","t":"Upper body ∼79%","ty":0.12},
{"g":"di","c":"upperarm-waist","t":"Upper body ∼76%","ty":0.12},
{"g":"di","c":"head-thigh","t":"Lower body ∼70%","ty":0.12},
{"g":"de","c":"shin-shin","t":"Inter body ∼66%","ty":0.12}
],
"dv": [{"c":"head-waist"},{"c":"chest-shin"}]
},
"vconcat": [
{"hconcat": [
{"hconcat": [
{"width":454,"height":182,
"encoding":{"x":{"field":"c","type":"nominal","scale":{"type":"band","paddingInner":0,"paddingOuter":0,"domain":["upperarm-chest","head-upperarm","head-chest","upperarm-forearm","chest-waist","head-waist","forearm-head","upperarm-waist","chest-forearm","chest-shin","chest-thigh","forearm-shin","forearm-thigh","forearm-waist","head-shin","head-thigh","shin-thigh","shin-upperarm","shin-waist","thigh-upperarm","thigh-waist"]},"axis":{"title":"Intra-body","labelAngle":-30,"labelAlign":"right","labelBaseline":"top","titleY":82,"titleBaseline":"middle"}}},
"layer":[
{"data":{"name":"bx"},"transform":[{"filter":"datum.g=='ai'"}],"mark":{"type":"rule","strokeDash":[4,3],"color":"black","strokeWidth":1},"encoding":{"y":{"field":"lo","type":"quantitative","title":"Similarity [%]","scale":{"domain":[0,1],"nice":false},"axis":{"format":".1f","tickCount":6}},"y2":{"field":"hi"}}},
{"data":{"name":"bd"},"transform":[{"filter":"datum.g=='ai'"}],"mark":{"type":"rule","strokeWidth":7,"color":"black","strokeCap":"butt"},"encoding":{"y":{"field":"b0","type":"quantitative","title":"Similarity [%]","scale":{"domain":[0,1],"nice":false},"axis":{"format":".1f","tickCount":6}},"y2":{"field":"b1"}}},
{"data":{"name":"ot"},"transform":[{"filter":"datum.g=='ai'"}],"mark":{"type":"point","shape":"M-1,0L1,0M0,-1L0,1","size":49,"filled":false,"color":"black","strokeWidth":1.2,"opacity":1},"encoding":{"y":{"field":"v","type":"quantitative","title":"Similarity [%]","scale":{"domain":[0,1],"nice":false},"axis":{"format":".1f","tickCount":6}}}},
{"data":{"name":"bx"},"transform":[{"filter":"datum.g=='ai'"}],"mark":{"type":"bar","width":{"band":0.5},"fill":"white","stroke":"black","strokeWidth":1.2},"encoding":{"y":{"field":"q1","type":"quantitative","title":"Similarity [%]","scale":{"domain":[0,1],"nice":false},"axis":{"format":".1f","tickCount":6}},"y2":{"field":"q3"}}},
{"data":{"name":"bx"},"transform":[{"filter":"datum.g=='ai'"}],"mark":{"type":"tick","size":11,"thickness":1.2,"color":"black"},"encoding":{"y":{"field":"md","type":"quantitative","title":"Similarity [%]","scale":{"domain":[0,1],"nice":false},"axis":{"format":".1f","tickCount":6}}}},
{"data":{"name":"bx"},"transform":[{"filter":"datum.g=='ai'"}],"mark":{"type":"tick","size":6,"thickness":1,"color":"black"},"encoding":{"y":{"field":"lo","type":"quantitative","title":"Similarity [%]","scale":{"domain":[0,1],"nice":false},"axis":{"format":".1f","tickCount":6}}}},
{"data":{"name":"bx"},"transform":[{"filter":"datum.g=='ai'"}],"mark":{"type":"tick","size":6,"thickness":1,"color":"black"},"encoding":{"y":{"field":"hi","type":"quantitative","title":"Similarity [%]","scale":{"domain":[0,1],"nice":false},"axis":{"format":".1f","tickCount":6}}}},
{"data":{"name":"tx"},"transform":[{"filter":"datum.g=='ai'"}],"mark":{"type":"text","font":"Liberation Serif","fontSize":11,"color":"#666666","baseline":"middle","align":"center"},"encoding":{"x":{"field":"c","type":"nominal","bandPosition":0.2},"y":{"field":"ty","type":"quantitative","title":"Similarity [%]","scale":{"domain":[0,1],"nice":false},"axis":{"format":".1f","tickCount":6}},"text":{"field":"t"}}},
{"data":{"name":"dv"},"mark":{"type":"rule","strokeDash":[2,2.5],"strokeWidth":2,"color":"#222222"},"encoding":{"x":{"field":"c","type":"nominal","bandPosition":0}}}
]},
{"width":151,"height":182,
"encoding":{"x":{"field":"c","type":"nominal","scale":{"type":"band","paddingInner":0,"paddingOuter":0,"domain":["chest-chest","forearm-forearm","head-head","shin-shin","thigh-thigh","upperarm-upperarm","waist-waist"]},"axis":{"title":"Inter-body","labelAngle":-30,"labelAlign":"right","labelBaseline":"top","titleY":82,"titleBaseline":"middle"}}},
"layer":[
{"data":{"name":"bx"},"transform":[{"filter":"datum.g=='ae'"}],"mark":{"type":"rule","strokeDash":[4,3],"color":"black","strokeWidth":1},"encoding":{"y":{"field":"lo","type":"quantitative","title":null,"scale":{"domain":[0,1],"nice":false},"axis":{"labels":false,"tickCount":6}},"y2":{"field":"hi"}}},
{"data":{"name":"bd"},"transform":[{"filter":"datum.g=='ae'"}],"mark":{"type":"rule","strokeWidth":7,"color":"black","strokeCap":"butt"},"encoding":{"y":{"field":"b0","type":"quantitative","title":null,"scale":{"domain":[0,1],"nice":false},"axis":{"labels":false,"tickCount":6}},"y2":{"field":"b1"}}},
{"data":{"name":"ot"},"transform":[{"filter":"datum.g=='ae'"}],"mark":{"type":"point","shape":"M-1,0L1,0M0,-1L0,1","size":49,"filled":false,"color":"black","strokeWidth":1.2,"opacity":1},"encoding":{"y":{"field":"v","type":"quantitative","title":null,"scale":{"domain":[0,1],"nice":false},"axis":{"labels":false,"tickCount":6}}}},
{"data":{"name":"bx"},"transform":[{"filter":"datum.g=='ae'"}],"mark":{"type":"bar","width":{"band":0.5},"fill":"white","stroke":"black","strokeWidth":1.2},"encoding":{"y":{"field":"q1","type":"quantitative","title":null,"scale":{"domain":[0,1],"nice":false},"axis":{"labels":false,"tickCount":6}},"y2":{"field":"q3"}}},
{"data":{"name":"bx"},"transform":[{"filter":"datum.g=='ae'"}],"mark":{"type":"tick","size":11,"thickness":1.2,"color":"black"},"encoding":{"y":{"field":"md","type":"quantitative","title":null,"scale":{"domain":[0,1],"nice":false},"axis":{"labels":false,"tickCount":6}}}},
{"data":{"name":"bx"},"transform":[{"filter":"datum.g=='ae'"}],"mark":{"type":"tick","size":6,"thickness":1,"color":"black"},"encoding":{"y":{"field":"lo","type":"quantitative","title":null,"scale":{"domain":[0,1],"nice":false},"axis":{"labels":false,"tickCount":6}}}},
{"data":{"name":"bx"},"transform":[{"filter":"datum.g=='ae'"}],"mark":{"type":"tick","size":6,"thickness":1,"color":"black"},"encoding":{"y":{"field":"hi","type":"quantitative","title":null,"scale":{"domain":[0,1],"nice":false},"axis":{"labels":false,"tickCount":6}}}},
{"data":{"name":"tx"},"transform":[{"filter":"datum.g=='ae'"}],"mark":{"type":"text","font":"Liberation Serif","fontSize":11,"color":"#666666","baseline":"middle","align":"center"},"encoding":{"y":{"field":"ty","type":"quantitative","title":null,"scale":{"domain":[0,1],"nice":false},"axis":{"labels":false,"tickCount":6}},"text":{"field":"t"}}}
]}
], "spacing": 15, "bounds": "flush", "title": {"text": "(a) SAPHE", "orient": "bottom", "anchor": "middle", "offset": 8}},
{"hconcat": [
{"width":454,"height":182,
"encoding":{"x":{"field":"c","type":"nominal","scale":{"type":"band","paddingInner":0,"paddingOuter":0,"domain":["upperarm-chest","head-upperarm","head-chest","upperarm-forearm","chest-waist","head-waist","forearm-head","upperarm-waist","chest-forearm","chest-shin","chest-thigh","forearm-shin","forearm-thigh","forearm-waist","head-shin","head-thigh","shin-thigh","shin-upperarm","shin-waist","thigh-upperarm","thigh-waist"]},"axis":{"title":"Intra-body","labelAngle":-30,"labelAlign":"right","labelBaseline":"top","titleY":82,"titleBaseline":"middle"}}},
"layer":[
{"data":{"name":"bx"},"transform":[{"filter":"datum.g=='bi'"}],"mark":{"type":"rule","strokeDash":[4,3],"color":"black","strokeWidth":1},"encoding":{"y":{"field":"lo","type":"quantitative","title":"Similarity [%]","scale":{"domain":[0,1],"nice":false},"axis":{"format":".1f","tickCount":6}},"y2":{"field":"hi"}}},
{"data":{"name":"ot"},"transform":[{"filter":"datum.g=='bi'"}],"mark":{"type":"point","shape":"M-1,0L1,0M0,-1L0,1","size":49,"filled":false,"color":"black","strokeWidth":1.2,"opacity":1},"encoding":{"y":{"field":"v","type":"quantitative","title":"Similarity [%]","scale":{"domain":[0,1],"nice":false},"axis":{"format":".1f","tickCount":6}}}},
{"data":{"name":"bx"},"transform":[{"filter":"datum.g=='bi'"}],"mark":{"type":"bar","width":{"band":0.5},"fill":"white","stroke":"black","strokeWidth":1.2},"encoding":{"y":{"field":"q1","type":"quantitative","title":"Similarity [%]","scale":{"domain":[0,1],"nice":false},"axis":{"format":".1f","tickCount":6}},"y2":{"field":"q3"}}},
{"data":{"name":"bx"},"transform":[{"filter":"datum.g=='bi'"}],"mark":{"type":"tick","size":11,"thickness":1.2,"color":"black"},"encoding":{"y":{"field":"md","type":"quantitative","title":"Similarity [%]","scale":{"domain":[0,1],"nice":false},"axis":{"format":".1f","tickCount":6}}}},
{"data":{"name":"bx"},"transform":[{"filter":"datum.g=='bi'"}],"mark":{"type":"tick","size":6,"thickness":1,"color":"black"},"encoding":{"y":{"field":"lo","type":"quantitative","title":"Similarity [%]","scale":{"domain":[0,1],"nice":false},"axis":{"format":".1f","tickCount":6}}}},
{"data":{"name":"bx"},"transform":[{"filter":"datum.g=='bi'"}],"mark":{"type":"tick","size":6,"thickness":1,"color":"black"},"encoding":{"y":{"field":"hi","type":"quantitative","title":"Similarity [%]","scale":{"domain":[0,1],"nice":false},"axis":{"format":".1f","tickCount":6}}}},
{"data":{"name":"tx"},"transform":[{"filter":"datum.g=='bi'"}],"mark":{"type":"text","font":"Liberation Serif","fontSize":11,"color":"#666666","baseline":"middle","align":"center"},"encoding":{"x":{"field":"c","type":"nominal","bandPosition":0.2},"y":{"field":"ty","type":"quantitative","title":"Similarity [%]","scale":{"domain":[0,1],"nice":false},"axis":{"format":".1f","tickCount":6}},"text":{"field":"t"}}},
{"data":{"name":"dv"},"mark":{"type":"rule","strokeDash":[2,2.5],"strokeWidth":2,"color":"#222222"},"encoding":{"x":{"field":"c","type":"nominal","bandPosition":0}}}
]},
{"width":151,"height":182,
"encoding":{"x":{"field":"c","type":"nominal","scale":{"type":"band","paddingInner":0,"paddingOuter":0,"domain":["chest-chest","forearm-forearm","head-head","shin-shin","thigh-thigh","upperarm-upperarm","waist-waist"]},"axis":{"title":"Inter-body","labelAngle":-30,"labelAlign":"right","labelBaseline":"top","titleY":82,"titleBaseline":"middle"}}},
"layer":[
{"data":{"name":"bx"},"transform":[{"filter":"datum.g=='be'"}],"mark":{"type":"rule","strokeDash":[4,3],"color":"black","strokeWidth":1},"encoding":{"y":{"field":"lo","type":"quantitative","title":null,"scale":{"domain":[0,1],"nice":false},"axis":{"labels":false,"tickCount":6}},"y2":{"field":"hi"}}},
{"data":{"name":"bd"},"transform":[{"filter":"datum.g=='be'"}],"mark":{"type":"rule","strokeWidth":7,"color":"black","strokeCap":"butt"},"encoding":{"y":{"field":"b0","type":"quantitative","title":null,"scale":{"domain":[0,1],"nice":false},"axis":{"labels":false,"tickCount":6}},"y2":{"field":"b1"}}},
{"data":{"name":"ot"},"transform":[{"filter":"datum.g=='be'"}],"mark":{"type":"point","shape":"M-1,0L1,0M0,-1L0,1","size":49,"filled":false,"color":"black","strokeWidth":1.2,"opacity":1},"encoding":{"y":{"field":"v","type":"quantitative","title":null,"scale":{"domain":[0,1],"nice":false},"axis":{"labels":false,"tickCount":6}}}},
{"data":{"name":"bx"},"transform":[{"filter":"datum.g=='be'"}],"mark":{"type":"bar","width":{"band":0.5},"fill":"white","stroke":"black","strokeWidth":1.2},"encoding":{"y":{"field":"q1","type":"quantitative","title":null,"scale":{"domain":[0,1],"nice":false},"axis":{"labels":false,"tickCount":6}},"y2":{"field":"q3"}}},
{"data":{"name":"bx"},"transform":[{"filter":"datum.g=='be'"}],"mark":{"type":"tick","size":11,"thickness":1.2,"color":"black"},"encoding":{"y":{"field":"md","type":"quantitative","title":null,"scale":{"domain":[0,1],"nice":false},"axis":{"labels":false,"tickCount":6}}}},
{"data":{"name":"bx"},"transform":[{"filter":"datum.g=='be'"}],"mark":{"type":"tick","size":6,"thickness":1,"color":"black"},"encoding":{"y":{"field":"lo","type":"quantitative","title":null,"scale":{"domain":[0,1],"nice":false},"axis":{"labels":false,"tickCount":6}}}},
{"data":{"name":"bx"},"transform":[{"filter":"datum.g=='be'"}],"mark":{"type":"tick","size":6,"thickness":1,"color":"black"},"encoding":{"y":{"field":"hi","type":"quantitative","title":null,"scale":{"domain":[0,1],"nice":false},"axis":{"labels":false,"tickCount":6}}}},
{"data":{"name":"tx"},"transform":[{"filter":"datum.g=='be'"}],"mark":{"type":"text","font":"Liberation Serif","fontSize":11,"color":"#666666","baseline":"middle","align":"center"},"encoding":{"y":{"field":"ty","type":"quantitative","title":null,"scale":{"domain":[0,1],"nice":false},"axis":{"labels":false,"tickCount":6}},"text":{"field":"t"}}}
]}
], "spacing": 15, "bounds": "flush", "title": {"text": "(b) Walkie-Talkie", "orient": "bottom", "anchor": "middle", "offset": 8}}
], "spacing": 14},
{"hconcat": [
{"hconcat": [
{"width":454,"height":182,
"encoding":{"x":{"field":"c","type":"nominal","scale":{"type":"band","paddingInner":0,"paddingOuter":0,"domain":["upperarm-chest","head-upperarm","head-chest","upperarm-forearm","chest-waist","head-waist","forearm-head","upperarm-waist","chest-forearm","chest-shin","chest-thigh","forearm-shin","forearm-thigh","forearm-waist","head-shin","head-thigh","shin-thigh","shin-upperarm","shin-waist","thigh-upperarm","thigh-waist"]},"axis":{"title":"Intra-body","labelAngle":-30,"labelAlign":"right","labelBaseline":"top","titleY":82,"titleBaseline":"middle"}}},
"layer":[
{"data":{"name":"bx"},"transform":[{"filter":"datum.g=='ci'"}],"mark":{"type":"rule","strokeDash":[4,3],"color":"black","strokeWidth":1},"encoding":{"y":{"field":"lo","type":"quantitative","title":"Similarity [%]","scale":{"domain":[0,1],"nice":false},"axis":{"format":".1f","tickCount":6}},"y2":{"field":"hi"}}},
{"data":{"name":"ot"},"transform":[{"filter":"datum.g=='ci'"}],"mark":{"type":"point","shape":"M-1,0L1,0M0,-1L0,1","size":49,"filled":false,"color":"black","strokeWidth":1.2,"opacity":1},"encoding":{"y":{"field":"v","type":"quantitative","title":"Similarity [%]","scale":{"domain":[0,1],"nice":false},"axis":{"format":".1f","tickCount":6}}}},
{"data":{"name":"bx"},"transform":[{"filter":"datum.g=='ci'"}],"mark":{"type":"bar","width":{"band":0.5},"fill":"white","stroke":"black","strokeWidth":1.2},"encoding":{"y":{"field":"q1","type":"quantitative","title":"Similarity [%]","scale":{"domain":[0,1],"nice":false},"axis":{"format":".1f","tickCount":6}},"y2":{"field":"q3"}}},
{"data":{"name":"bx"},"transform":[{"filter":"datum.g=='ci'"}],"mark":{"type":"tick","size":11,"thickness":1.2,"color":"black"},"encoding":{"y":{"field":"md","type":"quantitative","title":"Similarity [%]","scale":{"domain":[0,1],"nice":false},"axis":{"format":".1f","tickCount":6}}}},
{"data":{"name":"bx"},"transform":[{"filter":"datum.g=='ci'"}],"mark":{"type":"tick","size":6,"thickness":1,"color":"black"},"encoding":{"y":{"field":"lo","type":"quantitative","title":"Similarity [%]","scale":{"domain":[0,1],"nice":false},"axis":{"format":".1f","tickCount":6}}}},
{"data":{"name":"bx"},"transform":[{"filter":"datum.g=='ci'"}],"mark":{"type":"tick","size":6,"thickness":1,"color":"black"},"encoding":{"y":{"field":"hi","type":"quantitative","title":"Similarity [%]","scale":{"domain":[0,1],"nice":false},"axis":{"format":".1f","tickCount":6}}}},
{"data":{"name":"tx"},"transform":[{"filter":"datum.g=='ci'"}],"mark":{"type":"text","font":"Liberation Serif","fontSize":11,"color":"#666666","baseline":"middle","align":"center"},"encoding":{"x":{"field":"c","type":"nominal","bandPosition":0.2},"y":{"field":"ty","type":"quantitative","title":"Similarity [%]","scale":{"domain":[0,1],"nice":false},"axis":{"format":".1f","tickCount":6}},"text":{"field":"t"}}},
{"data":{"name":"dv"},"mark":{"type":"rule","strokeDash":[2,2.5],"strokeWidth":2,"color":"#222222"},"encoding":{"x":{"field":"c","type":"nominal","bandPosition":0}}}
]},
{"width":151,"height":182,
"encoding":{"x":{"field":"c","type":"nominal","scale":{"type":"band","paddingInner":0,"paddingOuter":0,"domain":["chest-chest","forearm-forearm","head-head","shin-shin","thigh-thigh","upperarm-upperarm","waist-waist"]},"axis":{"title":"Inter-body","labelAngle":-30,"labelAlign":"right","labelBaseline":"top","titleY":82,"titleBaseline":"middle"}}},
"layer":[
{"data":{"name":"bx"},"transform":[{"filter":"datum.g=='ce'"}],"mark":{"type":"rule","strokeDash":[4,3],"color":"black","strokeWidth":1},"encoding":{"y":{"field":"lo","type":"quantitative","title":null,"scale":{"domain":[0,1],"nice":false},"axis":{"labels":false,"tickCount":6}},"y2":{"field":"hi"}}},
{"data":{"name":"ot"},"transform":[{"filter":"datum.g=='ce'"}],"mark":{"type":"point","shape":"M-1,0L1,0M0,-1L0,1","size":49,"filled":false,"color":"black","strokeWidth":1.2,"opacity":1},"encoding":{"y":{"field":"v","type":"quantitative","title":null,"scale":{"domain":[0,1],"nice":false},"axis":{"labels":false,"tickCount":6}}}},
{"data":{"name":"bx"},"transform":[{"filter":"datum.g=='ce'"}],"mark":{"type":"bar","width":{"band":0.5},"fill":"white","stroke":"black","strokeWidth":1.2},"encoding":{"y":{"field":"q1","type":"quantitative","title":null,"scale":{"domain":[0,1],"nice":false},"axis":{"labels":false,"tickCount":6}},"y2":{"field":"q3"}}},
{"data":{"name":"bx"},"transform":[{"filter":"datum.g=='ce'"}],"mark":{"type":"tick","size":11,"thickness":1.2,"color":"black"},"encoding":{"y":{"field":"md","type":"quantitative","title":null,"scale":{"domain":[0,1],"nice":false},"axis":{"labels":false,"tickCount":6}}}},
{"data":{"name":"bx"},"transform":[{"filter":"datum.g=='ce'"}],"mark":{"type":"tick","size":6,"thickness":1,"color":"black"},"encoding":{"y":{"field":"lo","type":"quantitative","title":null,"scale":{"domain":[0,1],"nice":false},"axis":{"labels":false,"tickCount":6}}}},
{"data":{"name":"bx"},"transform":[{"filter":"datum.g=='ce'"}],"mark":{"type":"tick","size":6,"thickness":1,"color":"black"},"encoding":{"y":{"field":"hi","type":"quantitative","title":null,"scale":{"domain":[0,1],"nice":false},"axis":{"labels":false,"tickCount":6}}}},
{"data":{"name":"tx"},"transform":[{"filter":"datum.g=='ce'"}],"mark":{"type":"text","font":"Liberation Serif","fontSize":11,"color":"#666666","baseline":"middle","align":"center"},"encoding":{"y":{"field":"ty","type":"quantitative","title":null,"scale":{"domain":[0,1],"nice":false},"axis":{"labels":false,"tickCount":6}},"text":{"field":"t"}}}
]}
], "spacing": 15, "bounds": "flush", "title": {"text": "(c) BANDANA", "orient": "bottom", "anchor": "middle", "offset": 24}},
{"hconcat": [
{"width":454,"height":182,
"encoding":{"x":{"field":"c","type":"nominal","scale":{"type":"band","paddingInner":0,"paddingOuter":0,"domain":["upperarm-chest","head-upperarm","head-chest","upperarm-forearm","chest-waist","head-waist","forearm-head","upperarm-waist","chest-forearm","chest-shin","chest-thigh","forearm-shin","forearm-thigh","forearm-waist","head-shin","head-thigh","shin-thigh","shin-upperarm","shin-waist","thigh-upperarm","thigh-waist"]},"axis":{"title":"Intra-body","labelAngle":-30,"labelAlign":"right","labelBaseline":"top","titleY":82,"titleBaseline":"middle"}}},
"layer":[
{"data":{"name":"bx"},"transform":[{"filter":"datum.g=='di'"}],"mark":{"type":"rule","strokeDash":[4,3],"color":"black","strokeWidth":1},"encoding":{"y":{"field":"lo","type":"quantitative","title":"Similarity [%]","scale":{"domain":[0,1],"nice":false},"axis":{"format":".1f","tickCount":6}},"y2":{"field":"hi"}}},
{"data":{"name":"ot"},"transform":[{"filter":"datum.g=='di'"}],"mark":{"type":"point","shape":"M-1,0L1,0M0,-1L0,1","size":49,"filled":false,"color":"black","strokeWidth":1.2,"opacity":1},"encoding":{"y":{"field":"v","type":"quantitative","title":"Similarity [%]","scale":{"domain":[0,1],"nice":false},"axis":{"format":".1f","tickCount":6}}}},
{"data":{"name":"bx"},"transform":[{"filter":"datum.g=='di'"}],"mark":{"type":"bar","width":{"band":0.5},"fill":"white","stroke":"black","strokeWidth":1.2},"encoding":{"y":{"field":"q1","type":"quantitative","title":"Similarity [%]","scale":{"domain":[0,1],"nice":false},"axis":{"format":".1f","tickCount":6}},"y2":{"field":"q3"}}},
{"data":{"name":"bx"},"transform":[{"filter":"datum.g=='di'"}],"mark":{"type":"tick","size":11,"thickness":1.2,"color":"black"},"encoding":{"y":{"field":"md","type":"quantitative","title":"Similarity [%]","scale":{"domain":[0,1],"nice":false},"axis":{"format":".1f","tickCount":6}}}},
{"data":{"name":"bx"},"transform":[{"filter":"datum.g=='di'"}],"mark":{"type":"tick","size":6,"thickness":1,"color":"black"},"encoding":{"y":{"field":"lo","type":"quantitative","title":"Similarity [%]","scale":{"domain":[0,1],"nice":false},"axis":{"format":".1f","tickCount":6}}}},
{"data":{"name":"bx"},"transform":[{"filter":"datum.g=='di'"}],"mark":{"type":"tick","size":6,"thickness":1,"color":"black"},"encoding":{"y":{"field":"hi","type":"quantitative","title":"Similarity [%]","scale":{"domain":[0,1],"nice":false},"axis":{"format":".1f","tickCount":6}}}},
{"data":{"name":"tx"},"transform":[{"filter":"datum.g=='di'"}],"mark":{"type":"text","font":"Liberation Serif","fontSize":11,"color":"#666666","baseline":"middle","align":"center"},"encoding":{"x":{"field":"c","type":"nominal","bandPosition":0.2},"y":{"field":"ty","type":"quantitative","title":"Similarity [%]","scale":{"domain":[0,1],"nice":false},"axis":{"format":".1f","tickCount":6}},"text":{"field":"t"}}},
{"data":{"name":"dv"},"mark":{"type":"rule","strokeDash":[2,2.5],"strokeWidth":2,"color":"#222222"},"encoding":{"x":{"field":"c","type":"nominal","bandPosition":0}}}
]},
{"width":151,"height":182,
"encoding":{"x":{"field":"c","type":"nominal","scale":{"type":"band","paddingInner":0,"paddingOuter":0,"domain":["chest-chest","forearm-forearm","head-head","shin-shin","thigh-thigh","upperarm-upperarm","waist-waist"]},"axis":{"title":"Inter-body","labelAngle":-30,"labelAlign":"right","labelBaseline":"top","titleY":82,"titleBaseline":"middle"}}},
"layer":[
{"data":{"name":"bx"},"transform":[{"filter":"datum.g=='de'"}],"mark":{"type":"rule","strokeDash":[4,3],"color":"black","strokeWidth":1},"encoding":{"y":{"field":"lo","type":"quantitative","title":null,"scale":{"domain":[0,1],"nice":false},"axis":{"labels":false,"tickCount":6}},"y2":{"field":"hi"}}},
{"data":{"name":"bd"},"transform":[{"filter":"datum.g=='de'"}],"mark":{"type":"rule","strokeWidth":7,"color":"black","strokeCap":"butt"},"encoding":{"y":{"field":"b0","type":"quantitative","title":null,"scale":{"domain":[0,1],"nice":false},"axis":{"labels":false,"tickCount":6}},"y2":{"field":"b1"}}},
{"data":{"name":"ot"},"transform":[{"filter":"datum.g=='de'"}],"mark":{"type":"point","shape":"M-1,0L1,0M0,-1L0,1","size":49,"filled":false,"color":"black","strokeWidth":1.2,"opacity":1},"encoding":{"y":{"field":"v","type":"quantitative","title":null,"scale":{"domain":[0,1],"nice":false},"axis":{"labels":false,"tickCount":6}}}},
{"data":{"name":"bx"},"transform":[{"filter":"datum.g=='de'"}],"mark":{"type":"bar","width":{"band":0.5},"fill":"white","stroke":"black","strokeWidth":1.2},"encoding":{"y":{"field":"q1","type":"quantitative","title":null,"scale":{"domain":[0,1],"nice":false},"axis":{"labels":false,"tickCount":6}},"y2":{"field":"q3"}}},
{"data":{"name":"bx"},"transform":[{"filter":"datum.g=='de'"}],"mark":{"type":"tick","size":11,"thickness":1.2,"color":"black"},"encoding":{"y":{"field":"md","type":"quantitative","title":null,"scale":{"domain":[0,1],"nice":false},"axis":{"labels":false,"tickCount":6}}}},
{"data":{"name":"bx"},"transform":[{"filter":"datum.g=='de'"}],"mark":{"type":"tick","size":6,"thickness":1,"color":"black"},"encoding":{"y":{"field":"lo","type":"quantitative","title":null,"scale":{"domain":[0,1],"nice":false},"axis":{"labels":false,"tickCount":6}}}},
{"data":{"name":"bx"},"transform":[{"filter":"datum.g=='de'"}],"mark":{"type":"tick","size":6,"thickness":1,"color":"black"},"encoding":{"y":{"field":"hi","type":"quantitative","title":null,"scale":{"domain":[0,1],"nice":false},"axis":{"labels":false,"tickCount":6}}}},
{"data":{"name":"tx"},"transform":[{"filter":"datum.g=='de'"}],"mark":{"type":"text","font":"Liberation Serif","fontSize":11,"color":"#666666","baseline":"middle","align":"center"},"encoding":{"y":{"field":"ty","type":"quantitative","title":null,"scale":{"domain":[0,1],"nice":false},"axis":{"labels":false,"tickCount":6}},"text":{"field":"t"}}}
]}
], "spacing": 15, "bounds": "flush", "title": {"text": "(d) IPI", "orient": "bottom", "anchor": "middle", "offset": 24}}
], "spacing": 14}
],
"spacing": 30,
"config": {
"view": {"stroke": "black", "strokeWidth": 1},
"axis": {"grid": false, "domainColor": "black", "domainWidth": 1, "tickColor": "black", "tickSize": 3.5, "labelColor": "black", "titleColor": "black", "labelFont": "Liberation Serif", "titleFont": "Liberation Serif", "labelFontSize": 13, "titleFontSize": 13, "titleFontWeight": "normal", "labelPadding": 3},
"title": {"font": "Liberation Sans", "fontSize": 15, "fontWeight": "normal", "color": "black"}
}
}
